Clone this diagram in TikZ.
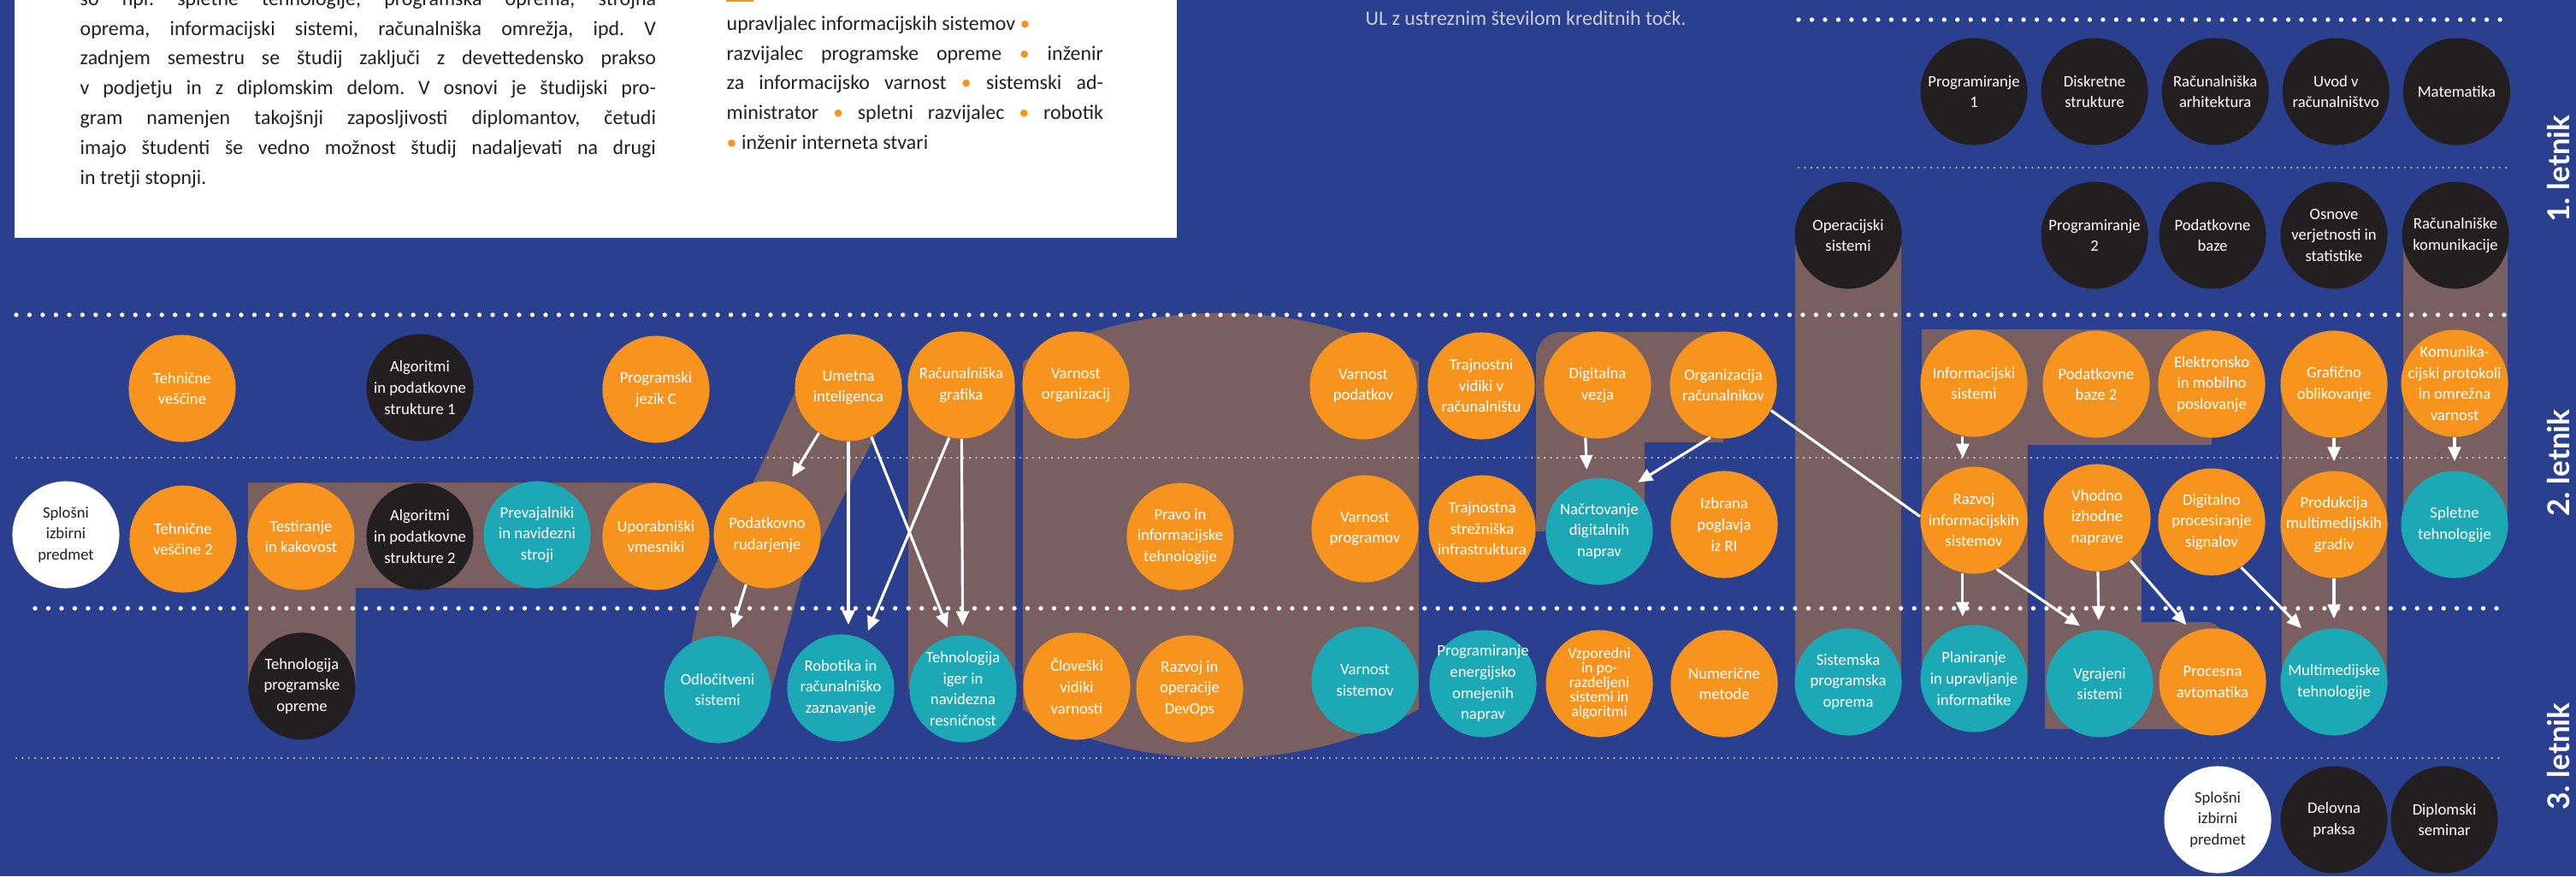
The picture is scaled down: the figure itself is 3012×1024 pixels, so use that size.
\documentclass[tikz,border=0pt]{standalone}
\usepackage{fontspec}
\setmainfont{Carlito}
\newfontfamily\letfont{Lato}
\usetikzlibrary{arrows.meta}
\frenchspacing

\definecolor{modra}{RGB}{43,63,143}
\definecolor{oranzna}{RGB}{247,148,30}
\definecolor{turkizna}{RGB}{28,168,180}
\definecolor{crna}{RGB}{35,31,32}
\definecolor{rjava}{RGB}{122,95,97}
\definecolor{siva}{RGB}{200,205,225}

\tikzstyle{predmet} = [circle, inner sep=-4pt, minimum size=1.25cm, align=center,
    text=white, font=\fontsize{5.3}{7}\selectfont]
\tikzstyle{crn} = [predmet, fill=crna]
\tikzstyle{ora} = [predmet, fill=oranzna]
\tikzstyle{tur} = [predmet, fill=turkizna]
\tikzstyle{bel} = [predmet, fill=white, text=crna]
\tikzstyle{pas} = [fill=rjava]
\tikzstyle{velpike} = [white, line width=1.5pt, line cap=round, dash pattern=on 0pt off 4.4pt]
\tikzstyle{malpike} = [white, line width=0.55pt, line cap=round, dash pattern=on 0pt off 2.1pt]
\tikzstyle{pot} = [->, white, line width=0.9pt, shorten >=3pt]
\tikzstyle{letnik} = [rotate=90, text=white, font=\letfont\bfseries\fontsize{10}{10}\selectfont]
\tikzstyle{besedilo} = [anchor=north west, inner sep=0pt, align=justify, text=crna,
    font=\fontsize{6.8}{9.9}\selectfont\sloppy]
\tikzstyle{opomba} = [anchor=base west, inner sep=0pt, text=siva, font=\fontsize{6.8}{9.9}\selectfont]

\begin{document}
\begin{tikzpicture}[x=0.01cm, y=-0.01cm, >={Triangle[length=4.8pt,width=4.2pt]},
                    node distance=1.41cm]
  \useasboundingbox (0,0) rectangle (3012,1024);
  \fill[modra] (0,0) rectangle (3012,1024);

  % uvodno besedilo
  \fill[white] (17,-20) rectangle (1376,278);
  \fill[oranzna] (849,-30) rectangle (881,2);
  \node[besedilo, text width=6.73cm] (opis) at (93,-11) {so npr. spletne tehnologije, programska oprema, strojna\linebreak
    oprema, informacijski sistemi, računalniška omrežja, ipd. V\linebreak
    zadnjem semestru se študij zaključi z devettedensko prakso\linebreak
    v podjetju in z diplomskim delom. V osnovi je študijski pro-\linebreak
    gram namenjen takojšnji zaposljivosti diplomantov, četudi\linebreak
    imajo študenti še vedno možnost študij nadaljevati na drugi\linebreak
    in tretji stopnji.};
  \node[besedilo, text width=4.4cm] (poklici) at (849,18) {upravljalec informacijskih sistemov \textcolor{oranzna}{•}\\
    razvijalec programske opreme \textcolor{oranzna}{•} inženir\linebreak
    za informacijsko varnost \textcolor{oranzna}{•} sistemski ad-\linebreak
    ministrator \textcolor{oranzna}{•} spletni razvijalec \textcolor{oranzna}{•} robotik\linebreak
    \textcolor{oranzna}{•} inženir interneta stvari};
  \node[opomba] (opomba1) at (1596,-6) {ali kateri koli predmet na študijskih programih};
  \node[opomba] (opomba2) at (1596,29) {UL z ustreznim številom kreditnih točk.};

  % pasovi
  \fill[pas] (290,564) rectangle (767,687);
  \fill[pas] (290,564) rectangle (416,802);
  \fill[pas] (932,453) -- (818,700) -- (798,806) -- (902,806) -- (937,677)
             -- (1000,553) -- (1054,453) -- cycle;
  \fill[pas] (1062,450) rectangle (1187,805);
  \begin{scope}
    \clip (1196,300) rectangle (1659,950);
    \fill[pas] (1427,626) ellipse [x radius=3.7cm, y radius=2.6cm];
  \end{scope}
  \fill[pas] (1796,621) [rounded corners=3mm] -- (1796,388) [sharp corners] -- (2015,388)
             -- (2015,517) -- (1923,517) -- (1923,621) -- cycle;
  \fill[pas] (2099,275) rectangle (2223,797);
  \fill[pas] (2247,385) rectangle (2586,520);
  \fill[pas] (2247,385) rectangle (2371,793);
  \fill[pas] (2391,605) rectangle (2504,852);
  \fill[pas, rounded corners=2mm] (2391,727) rectangle (2600,852);
  \fill[pas] (2668,449) rectangle (2791,797);
  \fill[pas] (2810,275) rectangle (2932,613);

  % pikcaste crte
  \draw[velpike] (2103,23) -- (2933,23);
  \draw[malpike] (2103,196) -- (2933,196);
  \draw[velpike] (19,368) -- (2933,368);
  \draw[malpike] (19,535) -- (2933,535);
  \draw[velpike] (41,711) -- (2933,711);
  \draw[malpike] (19,886) -- (2923,886);

  \node[letnik] (l1) at (2992,197) {1. letnik};
  \node[letnik] (l2) at (2992,541) {2. letnik};
  \node[letnik] (l3) at (2992,884) {3. letnik};

  % 1. letnik
  \node[crn] (p1) at (2308,107) {Programiranje\\1};
  \node[crn] (ds)  [right of=p1]  {Diskretne\\strukture};
  \node[crn] (ra)  [right of=ds]  {Računalniška\\arhitektura};
  \node[crn] (uvr) [right of=ra]  {Uvod v\\računalništvo};
  \node[crn] (mat) [right of=uvr] {Matematika};

  \node[crn] (os)  at (2161,275) {Operacijski\\sistemi};
  \node[crn] (p2)  at (2449,275) {Programiranje\\2};
  \node[crn] (pb)  at (2587,275) {Podatkovne\\baze};
  \node[crn] (ovs) at (2729,275) {Osnove\\verjetnosti in\\statistike};
  \node[crn] (rk)  at (2871,275) {Računalniške\\komunikacije};

  % 2. letnik
  \node[ora] (tv)   at (213,454)  {Tehnične\\veščine};
  \node[crn] (aps1) at (491,453)  {Algoritmi\\in podatkovne\\strukture 1};
  \node[ora] (pjc)  at (767,455)  {Programski\\jezik C};
  \node[ora] (ui)   at (992,453)  {Umetna\\inteligenca};
  \node[ora] (rg)   at (1124,450) {Računalniška\\grafika};
  \node[ora] (vo)   at (1258,450) {Varnost\\organizacij};
  \node[ora] (vp)   at (1594,451) {Varnost\\podatkov};
  \node[ora] (tvr)  at (1732,451) {Trajnostni\\vidiki v\\računalništu};
  \node[ora] (dv)   at (1868,450) {Digitalna\\vezja};
  \node[ora] (orac) at (2015,450) {Organizacija\\računalnikov};
  \node[ora] (is)   at (2308,448) {Informacijski\\sistemi};
  \node[ora] (pb2)  at (2451,449) {Podatkovne\\baze 2};
  \node[ora] (emp)  at (2586,449) {Elektronsko\\in mobilno\\poslovanje};
  \node[ora] (go)   at (2729,449) {Grafično\\oblikovanje};
  \node[ora] (kp)   at (2870,448) {Komunika-\\cijski protokoli\\in omrežna\\varnost};

  \node[bel] (sip)  at (77,625)   {Splošni\\izbirni\\predmet};
  \node[ora] (tv2)  at (214,630)  {Tehnične\\veščine 2};
  \node[ora] (tk)   at (352,627)  {Testiranje\\in kakovost};
  \node[crn] (aps2) at (491,627)  {Algoritmi\\in podatkovne\\strukture 2};
  \node[tur] (prev) at (628,625)  {Prevajalniki\\in navidezni\\stroji};
  \node[ora] (uv)   at (767,627)  {Uporabniški\\vmesniki};
  \node[ora] (pr)   at (897,625)  {Podatkovno\\rudarjenje};
  \node[ora] (pit)  at (1380,627) {Pravo in\\informacijske\\tehnologije};
  \node[ora] (vpr)  at (1596,618) {Varnost\\programov};
  \node[ora] (tsi)  at (1733,618) {Trajnostna\\strežniška\\infrastruktura};
  \node[tur] (ndn)  at (1870,621) {Načrtovanje\\digitalnih\\naprav};
  \node[ora] (ipri) at (2016,613) {Izbrana\\poglavja\\iz RI};
  \node[ora] (ris)  at (2308,608) {Razvoj\\informacijskih\\sistemov};
  \node[ora] (vin)  at (2452,605) {Vhodno\\izhodne\\naprave};
  \node[ora] (dps)  at (2586,610) {Digitalno\\procesiranje\\signalov};
  \node[ora] (pmg)  at (2729,613) {Produkcija\\multimedijskih\\gradiv};
  \node[tur] (st)   at (2870,613) {Spletne\\tehnologije};

  % 3. letnik
  \node[crn] (tpo)    at (353,802)  {Tehnologija\\programske\\opreme};
  \node[tur] (odl)    at (839,806)  {Odločitveni\\sistemi};
  \node[tur] (rob)    at (983,804)  {Robotika in\\računalniško\\zaznavanje};
  \node[tur] (ti)     at (1126,805) {Tehnologija\\iger in\\navidezna\\resničnost};
  \node[ora] (cvv)    at (1259,802) {Človeški\\vidiki\\varnosti};
  \node[ora] (devops) at (1391,805) {Razvoj in\\operacije\\DevOps};
  \node[tur] (vs)     at (1596,795) {Varnost\\sistemov};
  \node[tur] (peon)   at (1734,799) {Programiranje\\energijsko\\omejenih\\naprav};
  \node[ora, font=\fontsize{5.1}{4.8}\selectfont] (vzp) at (1870,799)
        {Vzporedni\\in po-\\razdeljeni\\sistemi in\\algoritmi};
  \node[ora] (nm)     at (2016,799) {Numerične\\metode};
  \node[tur] (spo)    at (2161,797) {Sistemska\\programska\\oprema};
  \node[tur] (pui)    at (2308,793) {Planiranje\\in upravljanje\\informatike};
  \node[tur] (vgs)    at (2455,799) {Vgrajeni\\sistemi};
  \node[ora] (pa)     at (2587,797) {Procesna\\avtomatika};
  \node[tur] (mt)     at (2729,797) {Multimedijske\\tehnologije};

  \node[bel] (sip3) at (2593,958) {Splošni\\izbirni\\predmet};
  \node[crn] (dp)   at (2729,958) {Delovna\\praksa};
  \node[crn] (dsem) at (2858,958) {Diplomski\\seminar};

  % povezave
  \path (ui.237)   edge[pot] (pr.68)
        (ui.south) edge[pot] (ui.south |- rob.north)
        (ui.295)   edge[pot] (ti.103)
        (rg.257)   edge[pot] (rob.64)
        (rg)       edge[pot] (ti)
        (pr.247)   edge[pot] (odl.77)
        (dv.257)   edge[pot] (ndn.103)
        (orac.256) edge[pot] (ndn.55)
        (orac.332) edge[white, line width=0.9pt] (ris.176)
        (is.258)   edge[pot] (ris.102)
        (ris.258)  edge[pot] (pui.102)
        (ris.295)  edge[pot] (vgs.103)
        (vin)      edge[pot] (vgs)
        (vin.308)  edge[pot] (pa.112)
        (dps.303)  edge[pot] (mt.119)
        (pmg)      edge[pot] (mt)
        (go)       edge[pot] (pmg)
        (kp)       edge[pot] (st);
\end{tikzpicture}
\end{document}
